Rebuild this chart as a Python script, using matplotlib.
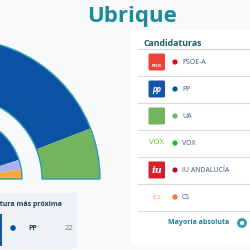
import matplotlib
matplotlib.use("Agg")
import matplotlib.pyplot as plt
from matplotlib.patches import Wedge, Rectangle, FancyBboxPatch, Circle

# ---- data ----
title = "Ubrique"
parties = ["PSOE-A", "PP", "UA", "VOX", "IU ANDALUCÍA", "CS"]
party_colors = ["#e30613", "#0c52a4", "#72b55e", "#2bb42b", "#b0103a", "#f07a3a"]
# outer ring (seats), left to right
outer_labels = ["PSOE-A", "PP", "UA"]
outer_values = [6, 9, 2]
outer_colors = ["#e30613", "#0c52a4", "#72b55e"]
# inner ring (previous), left to right
inner_values = [38, 52, 5, 5]
inner_colors = ["#e30613", "#0c52a4", "#aab3f2", "#f5ab3c"]
closest_party = "PP"
closest_value = 22

plt.rcParams['font.family'] = ['Open Sans', 'DejaVu Sans']

fig = plt.figure(figsize=(2.5, 2.5), dpi=100)
fig.patch.set_facecolor("#f7f9fa")
ax = fig.add_axes([0, 0, 1, 1])
ax.set_xlim(0, 250)
ax.set_ylim(250, 0)
ax.set_aspect("equal")
ax.axis("off")

teal = "#2e9db3"
cx, cy = -40, 179

def ring(values, colors, r, w):
    total = sum(values)
    start = 180.0
    for v, c in zip(values, colors):
        span = 180.0 * v / total
        a1, a2 = start - span, start
        ax.add_patch(Wedge((cx, cy), r, -a2, -a1, width=w, facecolor=c,
                           edgecolor="none", zorder=2))
        start = a1
    ax.add_patch(Wedge((cx, cy), r, -180, 0, width=w, fill=False,
                       edgecolor=teal, linewidth=1.0, zorder=3))

ring(outer_values, outer_colors, 140, 58)
ring(inner_values, inner_colors, 62, 30)

# title
ax.text(132, 22, title, ha="center", va="baseline", fontsize=16,
        fontweight="bold", color="#1b8a9c", zorder=5)

# legend card
ax.add_patch(Rectangle((131, 30), 130, 215, facecolor="white",
                       edgecolor="none", zorder=1))
ax.text(144, 46, "Candidaturas", fontsize=6.3, fontweight="bold",
        color="#1e5a66", va="baseline", zorder=5)
ax.plot([138, 250], [49, 49], color="#cfd8de", lw=0.8, zorder=4)

row0, pitch = 62, 27
for i, (p, c) in enumerate(zip(parties, party_colors)):
    y = row0 + i * pitch
    # logos
    if p == "PSOE-A":
        ax.add_patch(FancyBboxPatch((148.5, y - 8.5), 16.5, 17,
                     boxstyle="round,pad=0,rounding_size=1.5",
                     facecolor="#ec4237", edgecolor="none", zorder=4))
        ax.text(156.7, y + 5, "PSOE", fontsize=3, color="white",
                fontweight="bold", ha="center", va="baseline", zorder=5)
    elif p == "PP":
        ax.add_patch(FancyBboxPatch((148.5, y - 8.5), 16.5, 17,
                     boxstyle="round,pad=0,rounding_size=1.5",
                     facecolor="#1556a8", edgecolor="none", zorder=4))
        ax.text(156.7, y + 0.5, "pp", fontsize=5.5, color="white",
                fontweight="bold", style="italic", ha="center", va="center", zorder=5)
    elif p == "UA":
        ax.add_patch(FancyBboxPatch((148.5, y - 8.5), 16.5, 17,
                     boxstyle="round,pad=0,rounding_size=1",
                     facecolor="#72b55e", edgecolor="none", zorder=4))
    elif p == "VOX":
        ax.text(156.7, y, "VOX", fontsize=5.5, color="#5ebf2a",
                ha="center", va="center", zorder=5)
    elif p == "IU ANDALUCÍA":
        ax.add_patch(FancyBboxPatch((148.5, y - 8.5), 16.5, 17,
                     boxstyle="round,pad=0,rounding_size=1",
                     facecolor="#d71e2b", edgecolor="none", zorder=4))
        ax.text(156.7, y + 0.5, "iu", fontsize=7, color="white",
                fontweight="bold", style="italic", ha="center", va="center",
                family=["DejaVu Serif"], zorder=5)
    elif p == "CS":
        ax.text(156.7, y, "(cs", fontsize=5, color="#f4a27c",
                ha="center", va="center", zorder=5)
    ax.add_patch(Circle((175, y), 2.6, facecolor=c, edgecolor="none", zorder=5))
    ax.text(182, y + 0.3, p, fontsize=5, color="#3d5a78", va="center", zorder=5)
    ax.plot([138, 250], [y + 13.5, y + 13.5], color="#d5dde3", lw=0.8, zorder=4)

ax.text(229, 223, "Mayoria absoluta", fontsize=5, fontweight="bold",
        color="#1a7f9a", ha="right", va="center", zorder=5)
ax.add_patch(Circle((242, 223), 3.5, facecolor="none", edgecolor="#2e9db3",
                    linewidth=2.0, zorder=5))

# bottom-left box: closest candidate
ax.add_patch(Rectangle((-10, 193), 87, 56, facecolor="#eef2f4",
                       edgecolor="none", zorder=1))
ax.text(62, 204, "Candidatura más próxima", fontsize=5, fontweight="bold",
        color="#23404f", ha="right", va="center", zorder=5)
ax.add_patch(Rectangle((-10, 214), 12, 32, facecolor="#1556a8",
                       edgecolor="none", zorder=4))
ax.add_patch(Circle((13, 228), 2.8, facecolor="#0c52a4", edgecolor="none", zorder=5))
ax.text(28, 228, closest_party, fontsize=5, fontweight="bold",
        color="#23404f", va="center", zorder=5)
ax.text(73, 228, str(closest_value), fontsize=5.5, color="#6a7a86",
        ha="right", va="center", zorder=5)

fig.savefig("out.png", dpi=100, facecolor=fig.get_facecolor())
